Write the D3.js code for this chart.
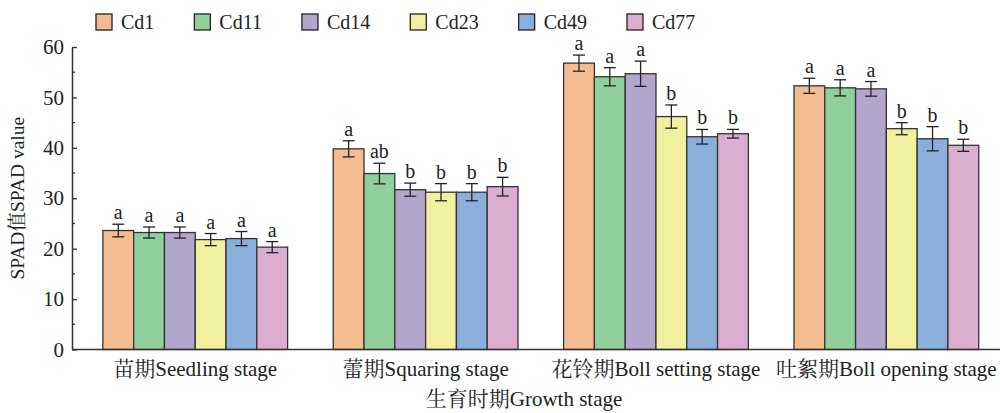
<!DOCTYPE html>
<html>
<head>
<meta charset="utf-8">
<script src="https://cdn.jsdelivr.net/npm/d3@7"></script>
<style>
  body { margin: 0; background: #fff; }
  svg { display: block; }
</style>
</head>
<body>
<div id="chart"></div>
<script>
const width = 1000;
const height = 413;
const fontFam = '"Liberation Serif", "Noto Serif CJK SC", serif';

// data
const stages = ["苗期Seedling stage", "蕾期Squaring stage", "花铃期Boll setting stage", "吐絮期Boll opening stage"];
const cultivars = ["Cd1", "Cd11", "Cd14", "Cd23", "Cd49", "Cd77"];
const colours = ["#f5bc92", "#91cf9c", "#b3a6cc", "#f0f09e", "#8aafdb", "#dbaed0"];

const seedlingMean = [23.6, 23.2, 23.2, 21.8, 22.0, 20.3];
const seedlingSE = [1.25, 1.1, 1.1, 1.2, 1.4, 1.1];
const seedlingSig = ["a", "a", "a", "a", "a", "a"];

const squaringMean = [39.8, 34.9, 31.7, 31.2, 31.2, 32.3];
const squaringSE = [1.6, 2.05, 1.3, 1.7, 1.7, 1.85];
const squaringSig = ["a", "ab", "b", "b", "b", "b"];

const bollSetMean = [56.8, 54.1, 54.7, 46.2, 42.2, 42.8];
const bollSetSE = [1.6, 1.8, 2.5, 2.3, 1.45, 0.86];
const bollSetSig = ["a", "a", "a", "b", "b", "b"];

const bollOpenMean = [52.3, 51.9, 51.7, 43.8, 41.8, 40.5];
const bollOpenSE = [1.5, 1.6, 1.45, 1.2, 2.4, 1.2];
const bollOpenSig = ["a", "a", "a", "b", "b", "b"];

const yTicks = [0, 10, 20, 30, 40, 50, 60];

const means = [seedlingMean, squaringMean, bollSetMean, bollOpenMean];
const errs = [seedlingSE, squaringSE, bollSetSE, bollOpenSE];
const sigs = [seedlingSig, squaringSig, bollSetSig, bollOpenSig];

const rows = [];
stages.forEach((s, i) => {
  cultivars.forEach((c, j) => {
    rows.push({stage: s, cultivar: c, mean: means[i][j], se: errs[i][j], sig: sigs[i][j]});
  });
});

const axisX = 72;
const svg = d3.select("#chart").append("svg")
  .attr("width", width)
  .attr("height", height);

// scales
const y = d3.scaleLinear().domain([0, 60]).range([349.5, 47]);
const x0 = d3.scaleBand().domain(stages)
  .range([axisX, 1009.6])
  .paddingInner(0.198)
  .paddingOuter(0.134);
const x1 = d3.scaleBand().domain(cultivars).range([0, x0.bandwidth()]);
const colour = d3.scaleOrdinal().domain(cultivars).range(colours);

const axisCol = "#333";
const textCol = "#222";

// bars
const groups = svg.append("g").selectAll("g")
  .data(stages)
  .join("g")
  .attr("transform", d => `translate(${x0(d)},0)`);

groups.selectAll("rect")
  .data(s => rows.filter(r => r.stage === s))
  .join("rect")
  .attr("x", d => x1(d.cultivar))
  .attr("y", d => y(d.mean))
  .attr("width", x1.bandwidth())
  .attr("height", d => y(0) - y(d.mean))
  .attr("fill", d => colour(d.cultivar))
  .attr("stroke", axisCol)
  .attr("stroke-width", 1.3);

// error bars
const eb = groups.selectAll("g.err")
  .data(s => rows.filter(r => r.stage === s))
  .join("g")
  .attr("class", "err")
  .attr("transform", d => `translate(${x1(d.cultivar) + x1.bandwidth() / 2},0)`)
  .attr("stroke", textCol)
  .attr("stroke-width", 1.3);

eb.append("line")
  .attr("y1", d => y(d.mean + d.se)).attr("y2", d => y(d.mean - d.se));
eb.append("line")
  .attr("x1", -6).attr("x2", 6)
  .attr("y1", d => y(d.mean + d.se)).attr("y2", d => y(d.mean + d.se));
eb.append("line")
  .attr("x1", -6).attr("x2", 6)
  .attr("y1", d => y(d.mean - d.se)).attr("y2", d => y(d.mean - d.se));

// significance letters
groups.selectAll("text.sig")
  .data(s => rows.filter(r => r.stage === s))
  .join("text")
  .attr("class", "sig")
  .attr("x", d => x1(d.cultivar) + x1.bandwidth() / 2)
  .attr("y", d => y(d.mean + d.se) - 5)
  .attr("text-anchor", "middle")
  .style("font-family", fontFam)
  .style("font-size", "20px")
  .attr("fill", textCol)
  .text(d => d.sig);

// y axis
const yAxis = svg.append("g")
  .attr("transform", `translate(${axisX},0)`)
  .call(d3.axisRight(y).tickValues(yTicks).tickSize(5).tickSizeOuter(0).tickFormat(d3.format("d")));
yAxis.select(".domain").attr("stroke", axisCol).attr("stroke-width", 1.5);
yAxis.selectAll(".tick line").attr("stroke", axisCol).attr("stroke-width", 1.3);
yAxis.selectAll(".tick text")
  .attr("x", -8)
  .attr("text-anchor", "end")
  .style("font-family", fontFam)
  .style("font-size", "21px")
  .attr("fill", textCol);
// minor ticks
yAxis.selectAll(".minor")
  .data(d3.range(5, 60, 10))
  .join("line")
  .attr("class", "minor")
  .attr("x1", 0).attr("x2", 3)
  .attr("y1", d => y(d)).attr("y2", d => y(d))
  .attr("stroke", axisCol)
  .attr("stroke-width", 1.3);

// x axis line
svg.append("line")
  .attr("x1", axisX).attr("x2", width)
  .attr("y1", y(0)).attr("y2", y(0))
  .attr("stroke", axisCol)
  .attr("stroke-width", 1.5);

// x labels
svg.append("g").selectAll("text")
  .data(stages)
  .join("text")
  .attr("x", d => x0(d) + x0.bandwidth() / 2)
  .attr("y", 376)
  .attr("text-anchor", "middle")
  .style("font-family", fontFam)
  .style("font-size", "21px")
  .attr("fill", textCol)
  .text(d => d);

svg.append("text")
  .attr("x", 524)
  .attr("y", 406)
  .attr("text-anchor", "middle")
  .style("font-family", fontFam)
  .style("font-size", "21px")
  .attr("fill", textCol)
  .text("生育时期Growth stage");

svg.append("text")
  .attr("transform", `translate(24,${(y(0) + y(60)) / 2}) rotate(-90)`)
  .attr("text-anchor", "middle")
  .style("font-family", fontFam)
  .style("font-size", "19.5px")
  .attr("fill", textCol)
  .text("SPAD值SPAD value");

// legend
const legend = svg.append("g");
let lx = 96;
cultivars.forEach(c => {
  const g = legend.append("g").attr("transform", `translate(${lx},14)`);
  g.append("rect")
    .attr("width", 16).attr("height", 16)
    .attr("fill", colour(c))
    .attr("stroke", textCol)
    .attr("stroke-width", 1.3);
  const t = g.append("text")
    .attr("x", 25).attr("y", 15)
    .style("font-family", fontFam)
    .style("font-size", "20px")
    .attr("fill", textCol)
    .text(c);
  lx += 25 + t.node().getComputedTextLength() + 40;
});
</script>
</body>
</html>
